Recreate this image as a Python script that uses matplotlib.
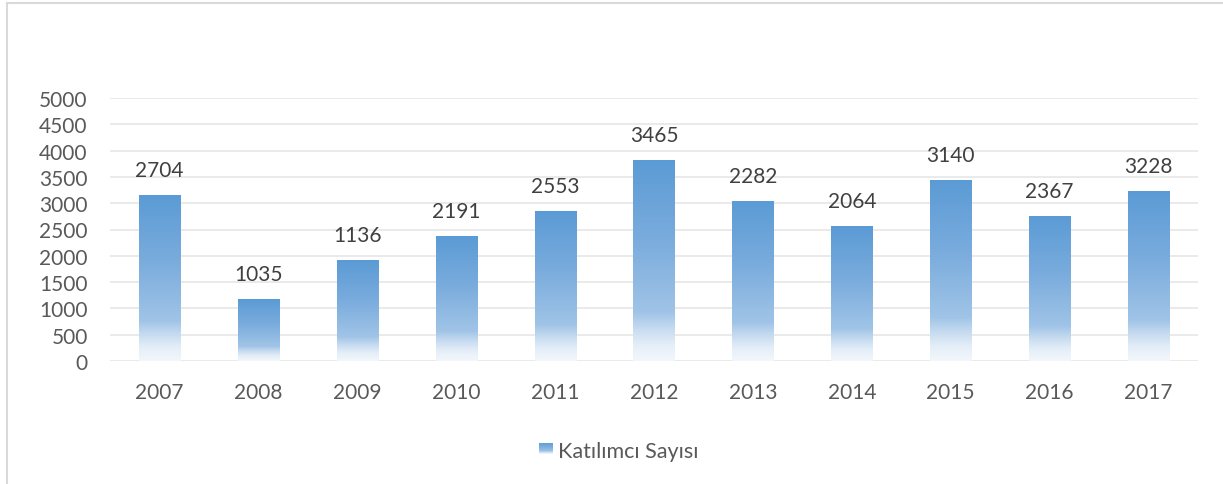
import matplotlib
matplotlib.use("Agg")
import matplotlib.pyplot as plt
import numpy as np
from matplotlib.colors import LinearSegmentedColormap
from matplotlib.lines import Line2D

years = ["2007", "2008", "2009", "2010", "2011", "2012", "2013", "2014", "2015", "2016", "2017"]
bar_heights = [3154, 1174, 1917, 2373, 2849, 3820, 3040, 2564, 3439, 2754, 3230]
label_values = [2704, 1035, 1136, 2191, 2553, 3465, 2282, 2064, 3140, 2367, 3228]
legend_label = "Katılımcı Sayısı"
y_ticks = [0, 500, 1000, 1500, 2000, 2500, 3000, 3500, 4000, 4500, 5000]

plt.rcParams['font.family'] = ['Lato', 'DejaVu Sans']

W, H = 1223, 485
fig = plt.figure(figsize=(W / 100, H / 100), dpi=100)
fig.patch.set_facecolor("white")

# chart-area border (left and top only visible)
fig.add_artist(Line2D([6.5 / W, 6.5 / W], [0, 1 - 3.5 / H], transform=fig.transFigure,
                      color="#D9D9D9", lw=1.5))
fig.add_artist(Line2D([6.5 / W, 1], [1 - 3.5 / H, 1 - 3.5 / H], transform=fig.transFigure,
                      color="#D9D9D9", lw=1.5))

left, right, top, bottom = 110, 1198, 99, 362
ax = fig.add_axes([left / W, 1 - bottom / H, (right - left) / W, (bottom - top) / H])

cmap = LinearSegmentedColormap.from_list(
    "grad",
    [(0.0, "#F3F7FC"), (0.08, "#E4EEF8"), (0.16, "#C6DBF0"), (0.24, "#A0C4E7"),
     (0.6, "#7AACDD"), (1.0, "#5B9BD5")])
grad = np.linspace(0, 1, 256).reshape(-1, 1)

x = np.arange(len(years))
width = 0.415
bars = ax.bar(x, bar_heights, width=width, color="none", edgecolor="none", zorder=3)
for b in bars:
    x0, y0 = b.get_x(), b.get_y()
    w, h = b.get_width(), b.get_height()
    im = ax.imshow(grad, cmap=cmap, origin="lower", aspect="auto",
                   extent=[x0, x0 + w, y0, y0 + h], zorder=3, interpolation="bilinear")
    im.set_clip_path(b)

for xi, h, v in zip(x, bar_heights, label_values):
    ax.annotate(str(v), (xi, h), xytext=(0, 18), textcoords="offset points",
                ha="center", va="center", fontsize=15, color="#404040", zorder=4)

ax.set_xlim(-0.5, len(years) - 0.5)
ax.set_ylim(0, 5000)
ax.set_yticks(y_ticks)
ax.set_xticks(x)
ax.set_xticklabels(years)
ax.tick_params(axis="both", length=0, labelsize=15, labelcolor="#595959")
ax.tick_params(axis="y", pad=16)
ax.tick_params(axis="x", pad=15)
ax.grid(axis="y", color="#E6E6E6", lw=1.2, zorder=0)
ax.set_axisbelow(True)
for s in ax.spines.values():
    s.set_visible(False)
ax.set_facecolor("none")

# legend: gradient square + text
lax = fig.add_axes([539 / W, 1 - 455 / H, 14 / W, 11 / H])
lax.imshow(grad, cmap=cmap, origin="lower", aspect="auto", extent=[0, 1, 0, 1])
lax.set_xlim(0, 1)
lax.set_ylim(0, 1)
lax.axis("off")
fig.text(558 / W, 1 - 452 / H, legend_label, ha="left", va="center",
         fontsize=15.5, color="#595959")

fig.savefig("out.png", dpi=100)
